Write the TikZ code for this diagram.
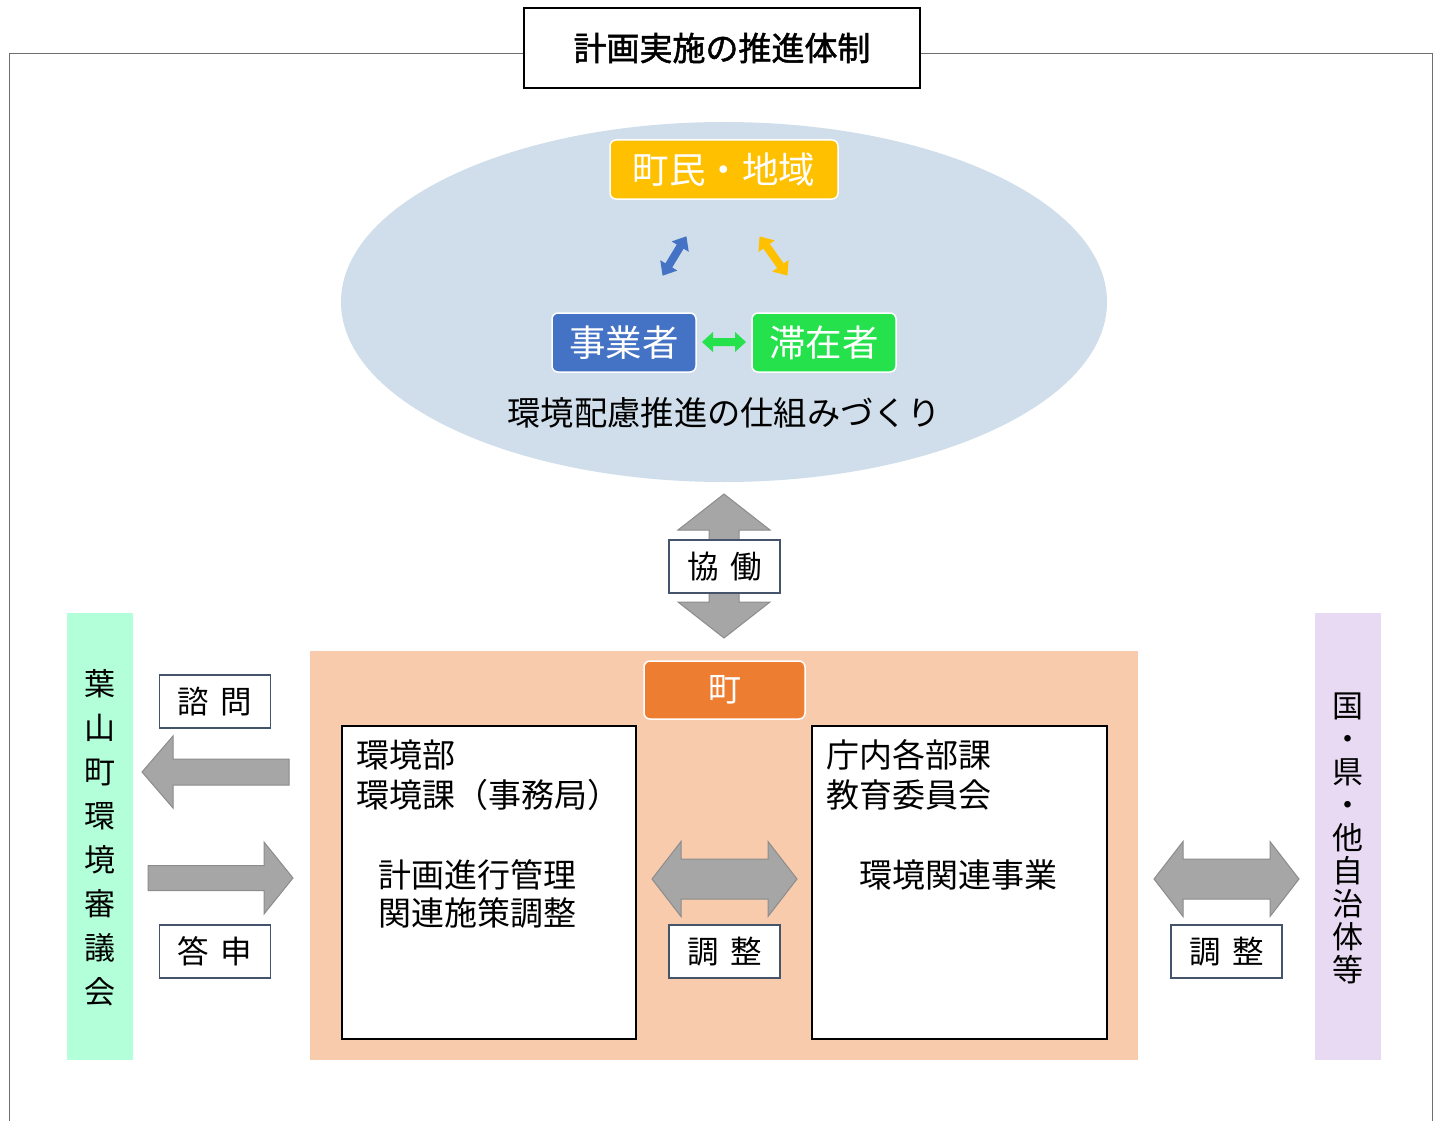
\documentclass[tikz,border=0pt]{standalone}
\usepackage{fontspec}
\setmainfont{Noto Sans CJK JP}
\newfontfamily\jpbold[FakeBold=1.5]{Noto Sans CJK JP}
\definecolor{ellc}{RGB}{207,222,234}
\definecolor{yel}{RGB}{255,192,0}
\definecolor{blu}{RGB}{68,114,196}
\definecolor{grn}{RGB}{37,226,76}
\definecolor{peach}{RGB}{248,203,173}
\definecolor{orng}{RGB}{237,125,49}
\definecolor{mint}{RGB}{179,255,217}
\definecolor{lav}{RGB}{232,218,243}
\definecolor{arrg}{RGB}{166,166,166}
\definecolor{arrb}{RGB}{140,140,140}
\definecolor{lblc}{RGB}{68,84,106}
\definecolor{framec}{RGB}{110,110,110}
\newcommand\dblarr[8][]{%
  \begin{scope}[shift={(#2,#3)},rotate=#4]
    \path[#1] ({-#5/2},0) -- ({-#5/2+#6},{#7/2}) -- ({-#5/2+#6},{#8/2}) -- ({#5/2-#6},{#8/2}) -- ({#5/2-#6},{#7/2}) -- ({#5/2},0)
      -- ({#5/2-#6},{-#7/2}) -- ({#5/2-#6},{-#8/2}) -- ({-#5/2+#6},{-#8/2}) -- ({-#5/2+#6},{-#7/2}) -- cycle;
  \end{scope}}
\newcommand\sglarr[8][]{%
  \begin{scope}[shift={(#2,#3)},rotate=#4]
    \path[#1] ({-#5/2},{#8/2}) -- ({#5/2-#6},{#8/2}) -- ({#5/2-#6},{#7/2}) -- ({#5/2},0)
      -- ({#5/2-#6},{-#7/2}) -- ({#5/2-#6},{-#8/2}) -- ({-#5/2},{-#8/2}) -- cycle;
  \end{scope}}
\begin{document}
\begin{tikzpicture}[x=1pt,y=-1pt,
  every node/.style={inner sep=0pt,outer sep=0pt},
  lbl/.style={draw=lblc,line width=1.5pt,fill=white,minimum width=111pt,minimum height=53pt,font=\fontsize{31.5}{36}\selectfont},
  cbox/.style={rounded corners=6pt,draw=white,line width=1.5pt,text=white,font=\fontsize{36.5}{40}\selectfont},
  wbox/.style={draw=black,line width=1.5pt,fill=white},
  bigarr/.style={fill=arrg,draw=arrb,line width=1pt},
  txt/.style={font=\fontsize{33}{40}\selectfont,anchor=base west}]
\useasboundingbox (0,0) rectangle (1437,1121);
\fill[white] (0,0) rectangle (1437,1121);
% frame
\draw[framec,line width=1pt] (524,54) -- (9,54) -- (9,1121);
\draw[framec,line width=1pt] (920,54) -- (1432,54) -- (1432,1121);
\node[draw=black,line width=1.2pt,fill=white,minimum width=396pt,minimum height=80pt,font=\fontsize{33}{36}\selectfont] (title) at (722,48) {\jpbold 計画実施の推進体制};
% ellipse
\fill[ellc] (724,302) ellipse [x radius=383, y radius=180];
\node[cbox,fill=yel,minimum width=228pt,minimum height=59pt] (town) at (724,169.5) {町民・地域};
\node[cbox,fill=blu,minimum width=144pt,minimum height=59pt] (biz) at (624,342.5) {事業者};
\node[cbox,fill=grn,minimum width=144pt,minimum height=59pt] (stay) at (824,342.5) {滞在者};
\node[font=\fontsize{33.3}{36}\selectfont] (mech) at (724,413) {環境配慮推進の仕組みづくり};
\dblarr[fill=blu]{674.5}{256}{58.8}{46}{12}{20}{8}
\dblarr[fill=yel]{773.5}{256}{-54.6}{48}{12}{20}{8}
\dblarr[fill=grn]{724}{342}{0}{44}{11}{20}{8}
% kyodo arrow
\dblarr[bigarr]{724}{566}{90}{144}{36}{92}{30}
\node[lbl] (kyo) at (724.5,566.5) {協\hspace{0.35em}働};
% town area
\fill[peach] (310,651) rectangle (1138,1060);
\node[cbox,fill=orng,minimum width=161pt,minimum height=58pt,font=\fontsize{33}{36}\selectfont] (machi) at (724.5,690) {町};
\node[wbox,minimum width=294pt,minimum height=313pt] (lbox) at (489,882.5) {};
\node[wbox,minimum width=295pt,minimum height=313pt] (rbox) at (959.5,882.5) {};
\node[txt] (lt1) at (356,767) {環境部};
\node[txt] (lt2) at (356,807) {環境課（事務局）};
\node[txt] (lt3) at (378,887) {計画進行管理};
\node[txt] (lt4) at (378,925) {関連施策調整};
\node[txt] (rt1) at (826,767) {庁内各部課};
\node[txt] (rt2) at (826,807) {教育委員会};
\node[txt,anchor=base] (rt3) at (958,887) {環境関連事業};
\dblarr[bigarr]{724.5}{879}{0}{145}{29}{75}{40}
\node[lbl] (adj1) at (724.5,951.5) {調\hspace{0.35em}整};
% left council
\fill[mint] (67,613) rectangle (133,1060);
\node[font=\fontsize{31}{44}\selectfont,align=center] (council) at (100,838) {葉\\山\\町\\環\\境\\審\\議\\会};
\node[lbl] (shimon) at (215,701.5) {諮\hspace{0.35em}問};
\node[lbl] (toshin) at (215,951.5) {答\hspace{0.35em}申};
\sglarr[bigarr]{215.5}{772}{180}{147}{31}{72}{26}
\sglarr[bigarr]{220.5}{878}{0}{145}{29}{72}{25}
% right others
\fill[lav] (1315,613) rectangle (1381,1060);
\node[font=\fontsize{31}{33}\selectfont,align=center] (gov) at (1348,838) {国\\・\\県\\・\\他\\自\\治\\体\\等};
\dblarr[bigarr]{1226.5}{879}{0}{145}{29}{75}{40}
\node[lbl] (adj2) at (1226.5,951.5) {調\hspace{0.35em}整};
\end{tikzpicture}
\end{document}
